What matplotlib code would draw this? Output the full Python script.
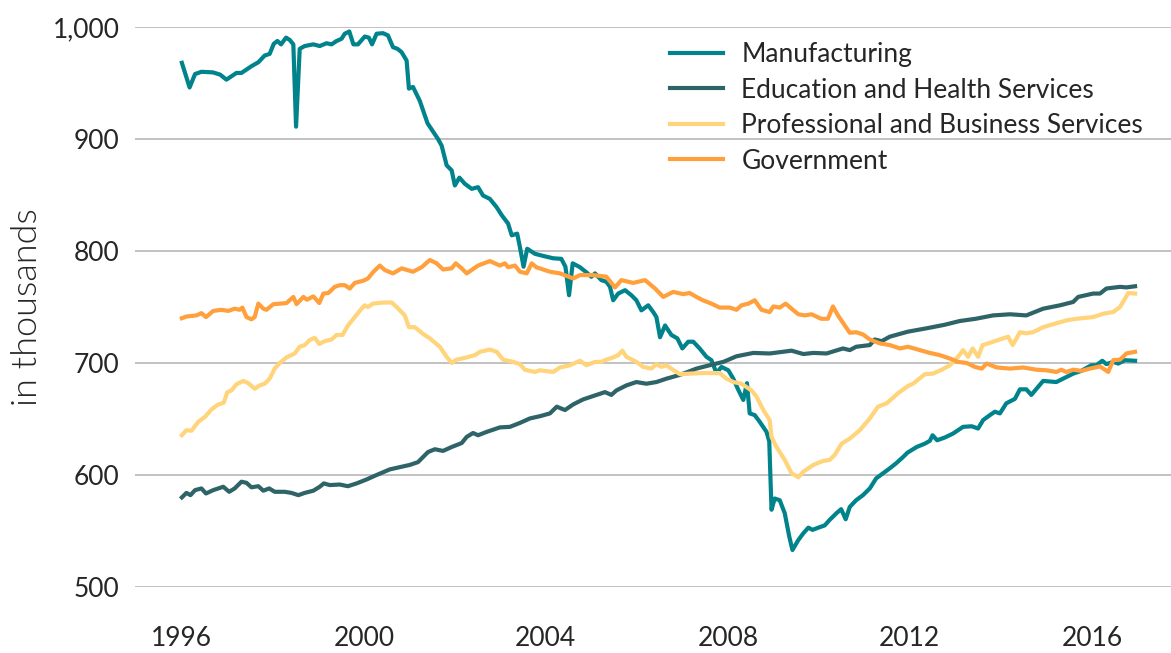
import matplotlib.pyplot as plt

# decimal years and values (thousands)
mfg_t = [1996.00, 1996.17, 1996.29, 1996.43, 1996.68, 1996.84, 1996.98, 1997.20, 1997.31, 1997.53,
         1997.68, 1997.82, 1997.93, 1998.02, 1998.10, 1998.18, 1998.29, 1998.37, 1998.45, 1998.51,
         1998.59, 1998.70, 1998.89, 1999.03, 1999.18, 1999.29, 1999.40, 1999.51, 1999.58, 1999.68,
         1999.77, 1999.87, 2000.02, 2000.11, 2000.18, 2000.28, 2000.42, 2000.53, 2000.64, 2000.74,
         2000.83, 2000.94, 2000.99, 2001.08, 2001.23, 2001.40, 2001.63, 2001.71, 2001.82, 2001.93,
         2002.00, 2002.10, 2002.22, 2002.37, 2002.51, 2002.62, 2002.77, 2002.92, 2003.03, 2003.17,
         2003.25, 2003.37, 2003.43, 2003.51, 2003.59, 2003.76, 2003.95, 2004.16, 2004.34, 2004.43,
         2004.51, 2004.59, 2004.75, 2004.89, 2005.00, 2005.08, 2005.22, 2005.33, 2005.41, 2005.48,
         2005.59, 2005.74, 2005.88, 2005.99, 2006.10, 2006.25, 2006.36, 2006.43, 2006.51, 2006.62,
         2006.76, 2006.89, 2007.00, 2007.13, 2007.24, 2007.38, 2007.53, 2007.64, 2007.75, 2007.86,
         2008.01, 2008.12, 2008.23, 2008.34, 2008.42, 2008.48, 2008.59, 2008.70, 2008.85, 2008.91,
         2008.96, 2009.03, 2009.14, 2009.25, 2009.35, 2009.42, 2009.55, 2009.66, 2009.77, 2009.86,
         2009.99, 2010.13, 2010.24, 2010.39, 2010.49, 2010.59, 2010.68, 2010.82, 2010.97, 2011.12,
         2011.26, 2011.41, 2011.56, 2011.70, 2011.85, 2011.95, 2012.15, 2012.33, 2012.44, 2012.50,
         2012.60, 2012.77, 2012.95, 2013.17, 2013.36, 2013.50, 2013.61, 2013.76, 2013.87, 2013.98,
         2014.12, 2014.31, 2014.42, 2014.56, 2014.67, 2014.93, 2015.22, 2015.37, 2015.59, 2015.77,
         2015.99, 2016.10, 2016.23, 2016.32, 2016.47, 2016.58, 2016.73, 2016.95]
mfg_v = [968, 946, 958, 960, 959.5, 957.5, 953, 959, 959, 965,
         968.5, 974.5, 976, 985, 987.5, 984.5, 990.5, 988.5, 984.5, 911,
         980.5, 983, 984.5, 983, 985.5, 984.5, 987.5, 989.5, 994, 996,
         984.5, 984.5, 991.5, 990.5, 984.5, 994, 994.5, 992.5, 982, 980.5,
         977.5, 970, 945, 946.5, 934, 914, 900, 894, 876.5, 872,
         858.5, 865.5, 860, 855.5, 857, 849.5, 846.5, 839, 832, 824.5,
         814, 815.5, 803.5, 786, 802, 797.5, 795.5, 793.5, 793, 786,
         760.5, 789, 785.5, 781, 777, 780, 774, 772.5, 768, 756,
         762, 765, 760.5, 756, 747, 751.5, 745.5, 741, 723, 733.5,
         725, 722, 713, 719, 719, 713, 705.5, 702.5, 691, 696.5,
         693.5, 686, 676, 667, 682, 655, 653.5, 647.5, 638.5, 630,
         569, 579, 577.5, 566, 545, 533, 542, 548, 553, 551,
         553, 555, 560, 566, 569.5, 560.5, 571.5, 577.5, 582, 588,
         597, 601.5, 606, 610.5, 616, 620, 625, 628, 630.5, 635.5,
         631, 633.5, 637, 643, 643.5, 641.5, 649, 653.5, 656.5, 655,
         664, 668, 676.5, 676.5, 671.5, 684, 683, 686, 690.5, 693,
         698, 698, 702, 699, 701, 699.5, 702.5, 702]

edu_t = [1996.00, 1996.10, 1996.19, 1996.29, 1996.43, 1996.53, 1996.69, 1996.91, 1997.04, 1997.16,
         1997.31, 1997.42, 1997.53, 1997.68, 1997.79, 1997.92, 1998.04, 1998.26, 1998.41, 1998.56,
         1998.70, 1998.89, 1999.03, 1999.12, 1999.25, 1999.47, 1999.65, 1999.84, 2000.06, 2000.28,
         2000.57, 2000.79, 2001.01, 2001.19, 2001.41, 2001.56, 2001.74, 2001.93, 2002.15, 2002.26,
         2002.40, 2002.51, 2002.70, 2002.99, 2003.21, 2003.43, 2003.65, 2003.87, 2004.09, 2004.24,
         2004.42, 2004.60, 2004.82, 2005.04, 2005.30, 2005.44, 2005.55, 2005.77, 2005.99, 2006.21,
         2006.43, 2006.65, 2006.91, 2007.02, 2007.31, 2007.60, 2007.90, 2008.19, 2008.56, 2008.92,
         2009.40, 2009.66, 2009.88, 2010.17, 2010.53, 2010.68, 2010.82, 2011.12, 2011.23, 2011.38,
         2011.56, 2011.96, 2012.37, 2012.75, 2013.10, 2013.45, 2013.83, 2014.20, 2014.56, 2014.93,
         2015.30, 2015.59, 2015.70, 2016.03, 2016.18, 2016.32, 2016.62, 2016.76, 2016.95]
edu_v = [580, 584, 582, 586.5, 588, 583.5, 586.5, 589.5, 585, 588,
         594, 593, 589, 590, 586, 588, 585, 585, 584, 582,
         584, 586, 589.5, 592.5, 591, 591.5, 590, 592.5, 596, 600,
         605, 607, 609, 611.5, 620.5, 623, 621.5, 625, 628.5, 634,
         637.5, 635.5, 638.5, 642.5, 643, 646.5, 650.5, 652.5, 655, 661,
         658, 663, 667.5, 670.5, 674, 671.5, 675.5, 680, 683, 681.5,
         683, 686, 689, 690.5, 695, 698, 701, 706, 709, 708.5,
         711, 708, 709, 708.5, 713, 711.5, 714.5, 716, 721, 719.5,
         723.5, 728, 731, 734, 737.5, 739.5, 742.5, 743.5, 742.5, 748.5,
         751.5, 754.5, 759, 762, 762, 766.5, 768, 767.5, 768.5]

pro_t = [1996.00, 1996.10, 1996.21, 1996.36, 1996.51, 1996.65, 1996.80, 1996.92, 1997.00, 1997.09,
         1997.20, 1997.35, 1997.46, 1997.60, 1997.71, 1997.82, 1997.93, 1998.04, 1998.15, 1998.30,
         1998.48, 1998.59, 1998.70, 1998.81, 1998.92, 1999.02, 1999.14, 1999.29, 1999.40, 1999.53,
         1999.65, 1999.80, 1999.95, 2000.02, 2000.09, 2000.20, 2000.42, 2000.61, 2000.72, 2000.90,
         2000.99, 2001.12, 2001.30, 2001.45, 2001.67, 2001.82, 2001.93, 2002.04, 2002.26, 2002.44,
         2002.55, 2002.77, 2002.92, 2003.06, 2003.28, 2003.43, 2003.54, 2003.76, 2003.87, 2004.16,
         2004.31, 2004.53, 2004.75, 2004.89, 2005.08, 2005.22, 2005.33, 2005.48, 2005.59, 2005.68,
         2005.77, 2005.99, 2006.14, 2006.32, 2006.43, 2006.54, 2006.65, 2006.79, 2006.95, 2007.16,
         2007.45, 2007.82, 2007.97, 2008.12, 2008.30, 2008.52, 2008.63, 2008.78, 2008.92, 2008.96,
         2009.07, 2009.25, 2009.40, 2009.55, 2009.66, 2009.88, 2010.09, 2010.24, 2010.35, 2010.50,
         2010.68, 2010.90, 2011.12, 2011.30, 2011.49, 2011.74, 2011.96, 2012.07, 2012.33, 2012.51,
         2012.70, 2012.88, 2013.06, 2013.17, 2013.28, 2013.38, 2013.50, 2013.60, 2013.76, 2013.98,
         2014.16, 2014.26, 2014.42, 2014.56, 2014.71, 2014.93, 2015.22, 2015.44, 2015.66, 2016.03,
         2016.25, 2016.47, 2016.62, 2016.73, 2016.80, 2016.95]
pro_v = [635.5, 640, 639.5, 647.5, 652, 658.5, 663, 664.5, 674, 675.5,
         681, 684, 682, 677, 680, 681.5, 686, 695, 700, 705,
         708.5, 714.5, 716, 720.5, 722.5, 717, 719.5, 721, 725, 725,
         733.5, 741, 748.5, 751.5, 750, 753, 754, 754, 750, 742.5,
         732, 732, 726, 722, 714.5, 705.5, 700, 703, 705, 707,
         710, 712, 710, 703, 701, 699, 694, 692, 693.5, 692,
         696, 698, 702, 698, 701, 701, 703, 705, 707, 711,
         705.5, 701, 696.5, 695, 699, 696.5, 698, 694, 690, 690.5,
         691, 691, 686, 683, 681.5, 675.5, 670, 658, 649, 634,
         625, 613.5, 601.5, 598, 603, 609, 612.5, 613.5, 618, 628,
         632.5, 640, 650.5, 661, 664, 673, 679.5, 681.5, 690, 690.5,
         694, 698, 705.5, 711.5, 705.5, 713, 705.5, 716, 718, 721,
         723.5, 716, 727.5, 726.5, 727.5, 732, 735.5, 738, 739.5, 741,
         744, 745.5, 750, 757.5, 762.5, 762]

gov_t = [1996.00, 1996.10, 1996.32, 1996.43, 1996.53, 1996.69, 1996.87, 1997.02, 1997.16, 1997.27,
         1997.33, 1997.42, 1997.53, 1997.60, 1997.68, 1997.79, 1997.86, 1998.01, 1998.15, 1998.30,
         1998.45, 1998.52, 1998.67, 1998.75, 1998.89, 1999.02, 1999.11, 1999.22, 1999.36, 1999.47,
         1999.58, 1999.69, 1999.80, 1999.99, 2000.09, 2000.20, 2000.35, 2000.46, 2000.64, 2000.83,
         2001.08, 2001.27, 2001.45, 2001.60, 2001.74, 2001.93, 2002.02, 2002.15, 2002.26, 2002.51,
         2002.77, 2002.99, 2003.10, 2003.17, 2003.32, 2003.43, 2003.58, 2003.69, 2003.79, 2004.09,
         2004.31, 2004.60, 2004.75, 2005.04, 2005.33, 2005.52, 2005.66, 2005.92, 2006.18, 2006.40,
         2006.58, 2006.80, 2007.02, 2007.16, 2007.31, 2007.45, 2007.64, 2007.82, 2008.04, 2008.19,
         2008.30, 2008.45, 2008.59, 2008.74, 2008.92, 2009.00, 2009.14, 2009.27, 2009.40, 2009.55,
         2009.69, 2009.84, 2010.05, 2010.20, 2010.31, 2010.42, 2010.57, 2010.68, 2010.82, 2010.97,
         2011.12, 2011.34, 2011.56, 2011.78, 2011.96, 2012.22, 2012.44, 2012.66, 2012.88, 2013.06,
         2013.25, 2013.43, 2013.58, 2013.69, 2013.91, 2014.20, 2014.49, 2014.78, 2015.00, 2015.22,
         2015.33, 2015.44, 2015.59, 2015.77, 2015.96, 2016.18, 2016.36, 2016.47, 2016.62, 2016.76,
         2016.95]
gov_v = [740, 741.5, 742.5, 744.5, 741, 746.5, 747.5, 746.5, 748.5, 747.5,
         749.5, 741, 739, 741, 753, 748.5, 747.5, 752.5, 753, 753.5,
         759, 752.5, 759, 756.5, 759.5, 753.5, 762, 762.5, 768, 769.5,
         769.5, 766.5, 771.5, 773.5, 775.5, 781, 787, 783, 780, 784.5,
         781.5, 785.5, 792, 789, 783.5, 784.5, 789, 784.5, 780, 787,
         791, 787, 789, 785.5, 787, 781.5, 780, 789, 785.5, 781.5,
         780, 775.5, 778.5, 778.5, 777, 767.5, 774, 771.5, 774, 766.5,
         759, 763.5, 761.5, 762.5, 759, 756, 753, 749.5, 749.5, 747.5,
         751.5, 753, 756, 747.5, 745.5, 750.5, 749.5, 753, 748.5, 743.5,
         742.5, 743.5, 739.5, 739.5, 750.5, 742.5, 733.5, 727, 727.5, 725.5,
         721, 717.5, 716, 713, 714.5, 711.5, 709, 707, 704, 701,
         700, 696.5, 695, 699.5, 696, 695, 696, 694, 693.5, 692,
         694, 692, 694, 693, 695, 697, 692, 702.5, 703, 708.5,
         710]

series = [
    ("Manufacturing", mfg_t, mfg_v, "#00838B"),
    ("Education and Health Services", edu_t, edu_v, "#2E6468"),
    ("Professional and Business Services", pro_t, pro_v, "#FFD47A"),
    ("Government", gov_t, gov_v, "#FFA03C"),
]
year_ticks = [1996, 2000, 2004, 2008, 2012, 2016]
value_ticks = [500, 600, 700, 800, 900, 1000]

plt.rcParams["font.family"] = ["Lato", "DejaVu Sans"]
text_color = "#262626"

fig = plt.figure(figsize=(11.71, 6.53), dpi=100)
ax = fig.add_axes([135 / 1171, 1 - 587 / 653, 1 - 135 / 1171, 560 / 653])

for label, t, v, color in series:
    ax.plot(t, v, color=color, lw=3, label=label, solid_joinstyle="round")

ax.set_xlim(1994.97, 2017.74)
ax.set_ylim(500, 1000)
ax.set_xticks(year_ticks)
ax.set_xticklabels([str(y) for y in year_ticks])
ax.set_yticks(value_ticks)
ax.set_yticklabels([f"{v:,}" for v in value_ticks])
ax.tick_params(axis="both", length=0, labelsize=19, colors=text_color)
ax.tick_params(axis="y", pad=11)
ax.tick_params(axis="x", pad=28)
ax.grid(axis="y", color="#BDBDBD", lw=1.3)
ax.set_axisbelow(True)
for s in ax.spines.values():
    s.set_visible(False)

ax.set_ylabel("in thousands", fontsize=26, fontweight=300, color=text_color, labelpad=7)

ax.legend(loc="upper left", bbox_to_anchor=(0.552, 0.972), bbox_transform=fig.transFigure,
          frameon=False, fontsize=19, handlelength=2.0, labelspacing=0.4,
          handletextpad=0.7, labelcolor=text_color)

plt.savefig("out.png", dpi=100)
